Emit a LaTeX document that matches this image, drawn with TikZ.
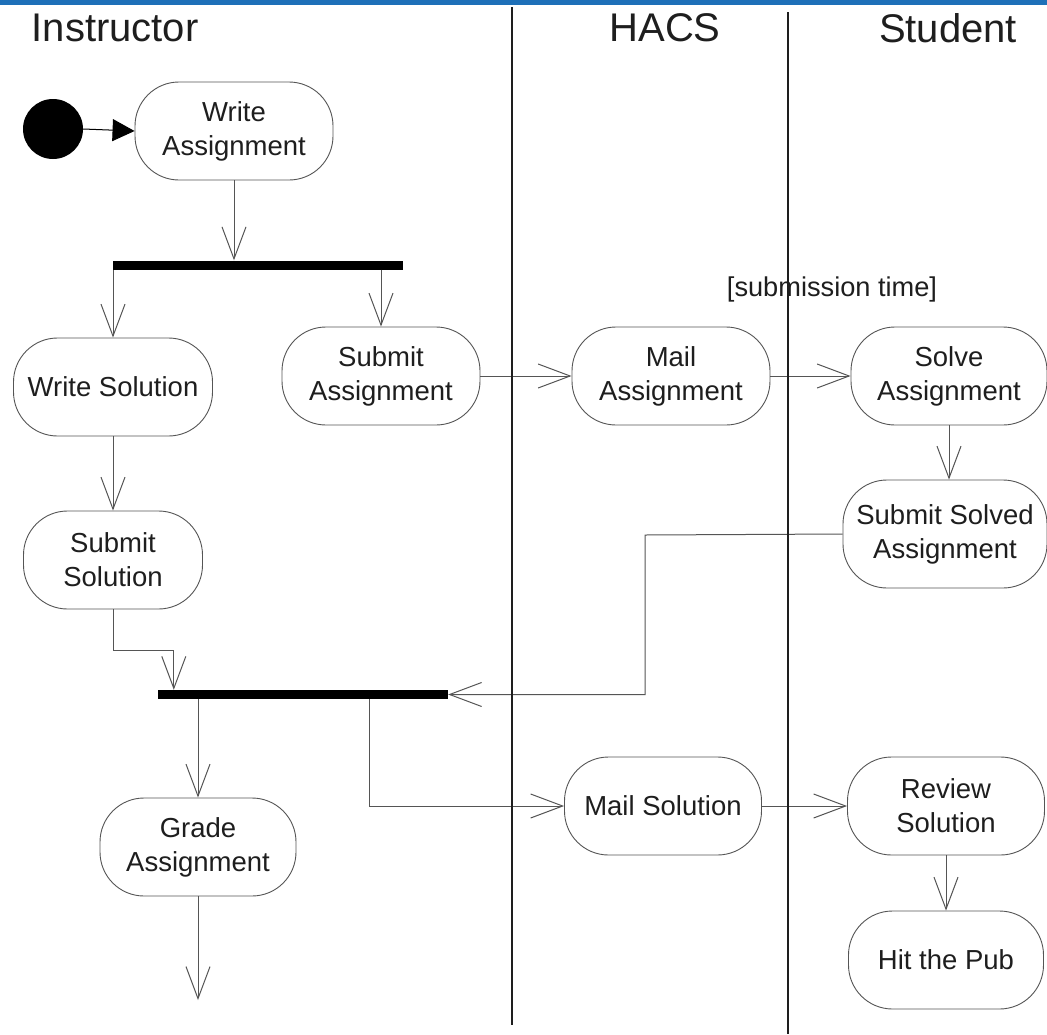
\documentclass[tikz,border=0pt]{standalone}
\usepackage{fontspec}
\setmainfont{Liberation Sans}
\usetikzlibrary{arrows.meta}
\definecolor{topbar}{RGB}{30,112,184}
\definecolor{edgegray}{RGB}{85,85,85}
\definecolor{inkgray}{RGB}{30,30,30}
\begin{document}
\begin{tikzpicture}[x=1pt,y=-1pt,
  activity/.style={draw=edgegray,line width=0.9pt,rectangle,rounded corners=44pt,
    minimum width=198pt,minimum height=98pt,align=center,inner sep=0pt,
    font=\fontsize{27.5}{34}\selectfont,text=inkgray},
  forkbar/.style={fill=black,draw=none,minimum height=9pt,inner sep=0pt},
  flow/.style={draw=edgegray,line width=1pt,-{Straight Barb[length=32pt,width=24pt]}},
  lane/.style={draw=inkgray,line width=2pt},
  lanetitle/.style={font=\fontsize{40}{44}\selectfont,text=inkgray,inner sep=0pt}]
\useasboundingbox (0,0) rectangle (1047,1034);
\fill[white] (0,0) rectangle (1047,1034);
\fill[topbar] (0,0) rectangle (1047,5);

% swimlane titles
\node[lanetitle] (tInstr) at (115,28) {Instructor};
\node[lanetitle] (tHacs) at (665,28) {HACS};
\node[lanetitle] (tStud) at (948,28) {Student};

% start state
\node[circle,fill=black,minimum size=60pt,inner sep=0pt] (start) at (53,129) {};

% activities
\node[activity] (wa) at (234,131) {Write\\Assignment};
\node[forkbar,minimum width=290pt] (bar1) at (258,265) {};
\node[activity,minimum width=199pt] (ws) at (113,387) {Write Solution};
\node[activity] (sa) at (381,376) {Submit\\Assignment};
\node[activity] (ma) at (671,376) {Mail\\Assignment};
\node[activity,minimum width=196pt] (solve) at (949,376) {Solve\\Assignment};
\node[activity,minimum width=204pt,minimum height=108pt] (ssa) at (945,534) {Submit Solved\\Assignment};
\node[activity,minimum width=179pt] (ss) at (113,560) {Submit\\Solution};
\node[forkbar,minimum width=290pt] (bar2) at (303,694.5) {};
\node[activity,minimum width=196pt] (grade) at (198,847) {Grade\\Assignment};
\node[activity,minimum width=197pt] (ms) at (663,806) {Mail Solution};
\node[activity,minimum width=197pt] (rs) at (946,806) {Review\\Solution};
\node[activity,minimum width=195pt] (pub) at (946,960) {Hit the Pub};

% guard
\node[font=\fontsize{27.2}{30}\selectfont,text=inkgray,inner sep=0pt] (guard) at (832,289) {[submission time]};

\coordinate (gradeEnd) at (198,1000);
\coordinate (joinTurn) at (645,535);

% transitions
\draw[black,line width=1pt,-{Triangle[length=22pt,width=22pt]}] (start.east) -- (wa.west);
\draw[flow] (wa.south) -- (wa.south |- bar1.north);
\draw[flow] (ws.north |- bar1.south) -- (ws.north);
\draw[flow] (sa.north |- bar1.south) -- (sa.north);
\draw[flow] (sa.east) -- (ma.west);
\draw[flow] (ma.east) -- (solve.west);
\draw[flow] (solve.south) -- (solve.south |- ssa.north);
\draw[flow] (ws.south) -- (ss.north);
\draw[flow] (ss.south) -- ++(0,41) -| ([xshift=16pt]bar2.north west);
\draw[flow] (ssa.west) -- (joinTurn) |- (bar2.east);
\draw[flow] (grade.north |- bar2.south) -- (grade.north);
\draw[flow] (grade.south) -- (gradeEnd);
\draw[flow] ([xshift=212pt]bar2.south west) |- (ms.west);
\draw[flow] (ms.east) -- (rs.west);
\draw[flow] (rs.south) -- (pub.north);

% swimlane separators
\draw[lane] (512,7) -- (512,1025);
\draw[lane] (788,12) -- (788,1034);
\end{tikzpicture}
\end{document}
